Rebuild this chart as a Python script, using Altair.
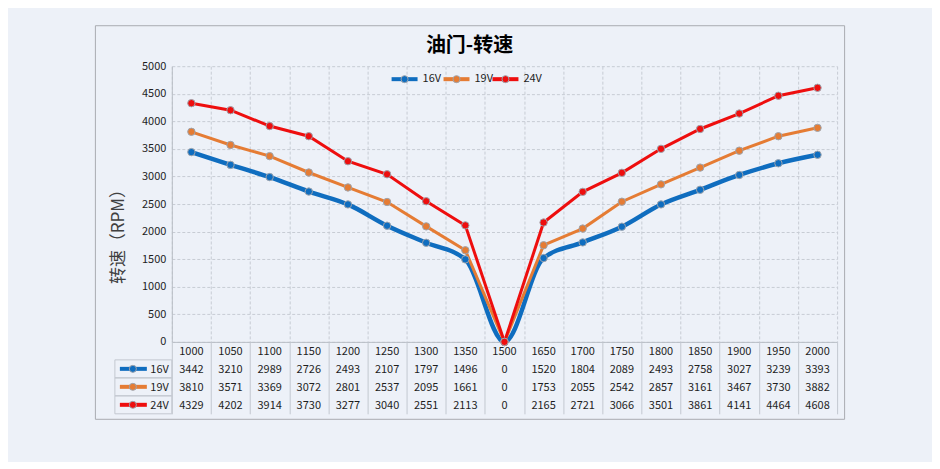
import altair as alt
import pandas as pd

# ---------------- data ----------------
categories = [1000, 1050, 1100, 1150, 1200, 1250, 1300, 1350, 1500,
              1650, 1700, 1750, 1800, 1850, 1900, 1950, 2000]
series_names = ["16V", "19V", "24V"]
v16 = [3442, 3210, 2989, 2726, 2493, 2107, 1797, 1496, 0,
       1520, 1804, 2089, 2493, 2758, 3027, 3239, 3393]
v19 = [3810, 3571, 3369, 3072, 2801, 2537, 2095, 1661, 0,
       1753, 2055, 2542, 2857, 3161, 3467, 3730, 3882]
v24 = [4329, 4202, 3914, 3730, 3277, 3040, 2551, 2113, 0,
       2165, 2721, 3066, 3501, 3861, 4141, 4464, 4608]
y_ticks = [0, 500, 1000, 1500, 2000, 2500, 3000, 3500, 4000, 4500, 5000]
title_text = "油门-转速"
y_title = "转速（RPM）"

rows = []
for name, vals in zip(series_names, [v16, v19, v24]):
    for c, v in zip(categories, vals):
        rows.append({"throttle": c, "series": name, "rpm": v})
df = pd.DataFrame(rows)

tbl = []
for c in categories:
    tbl.append({"throttle": c, "row": "hdr", "label": str(c)})
for name, vals in zip(series_names, [v16, v19, v24]):
    for c, v in zip(categories, vals):
        tbl.append({"throttle": c, "row": name, "label": str(v)})
tdf = pd.DataFrame(tbl)

# ---------------- style ----------------
FONT = "Noto Sans CJK SC"
COLORS = ["#0f6dbf", "#e57c34", "#ee0e0e"]
BG = "#edf1f8"
GRID = "#c7ccd4"
TGRID = "#c3c8d0"
AXIS = "#b9bec6"
TXT = "#1e1e1e"
W, H, TH = 666, 276, 72

color_enc = alt.Color("series:N", scale=alt.Scale(domain=series_names, range=COLORS), legend=None)

x_top = alt.X("throttle:O", bandPosition=0.5,
              scale=alt.Scale(type="band", domain=categories, paddingInner=0, paddingOuter=0),
              axis=alt.Axis(title=None, labels=False, ticks=False, tickSize=0, domain=True,
                            domainColor=AXIS, grid=True, gridColor=GRID, gridDash=[3, 2],
                            tickBand="extent"))
y_top = alt.Y("rpm:Q", scale=alt.Scale(domain=[0, 5000], nice=False),
              axis=alt.Axis(values=y_ticks, format="d", title=y_title, titleFont=FONT,
                            titleFontSize=17, titleFontWeight="normal", titleColor="#404040",
                            titleX=-53, titleY=166, titleAngle=270, titleBaseline="middle",
                            titleAlign="center", labelFont=FONT, labelFontSize=11, labelColor=TXT,
                            labelPadding=6, ticks=False, tickSize=0, domain=True, domainColor=AXIS,
                            grid=True, gridColor=GRID, gridDash=[3, 2]))

one = pd.DataFrame({"k": [0]})

card = alt.Chart(one).mark_rect(fillOpacity=0, stroke="#a9acb1", strokeWidth=1).encode(
    x=alt.value(-76.5), x2=alt.value(673.5), y=alt.value(-40.5), y2=alt.value(353.5))

title = alt.Chart(one).mark_text(text=title_text, font=FONT, fontSize=20, fontWeight="bold",
                                 color="#000000", baseline="middle", align="center").encode(
    x=alt.value(298), y=alt.value(-20))

base = alt.Chart(df).encode(x=x_top, y=y_top, color=color_enc)
line_blue = base.transform_filter(alt.datum.series == "16V").mark_line(
    interpolate="monotone", strokeWidth=4.5)
line_other = base.transform_filter(alt.datum.series != "16V").mark_line(strokeWidth=3)
pts = base.mark_circle(size=55, opacity=1, stroke="#9ea4ad", strokeWidth=1)

legend_layers = []
key_x = [220, 272, 321]
for name, col, x0 in zip(series_names, COLORS, key_x):
    legend_layers.append(alt.Chart(one).mark_rule(color=col, strokeWidth=4).encode(
        x=alt.value(x0), x2=alt.value(x0 + 26), y=alt.value(13)))
    legend_layers.append(alt.Chart(one).mark_circle(color=col, size=50, opacity=1,
                                                    stroke="#9ea4ad", strokeWidth=1).encode(
        x=alt.value(x0 + 13), y=alt.value(13)))
    legend_layers.append(alt.Chart(one).mark_text(text=name, font=FONT, fontSize=11, color=TXT,
                                                  align="left", baseline="middle").encode(
        x=alt.value(x0 + 31), y=alt.value(13)))

top = alt.layer(card, line_blue, line_other, pts, title, *legend_layers).properties(width=W, height=H)

# ---------------- data table ----------------
x_tbl = alt.X("throttle:O", bandPosition=0.5,
              scale=alt.Scale(type="band", domain=categories, paddingInner=0, paddingOuter=0),
              axis=alt.Axis(title=None, labels=False, ticks=False, tickSize=0, domain=False,
                            grid=True, gridColor=TGRID, tickBand="extent"))
row_scale = alt.Scale(type="band", domain=["hdr"] + series_names, paddingInner=0, paddingOuter=0)
y_tbl = alt.Y("row:N", scale=row_scale,
              axis=alt.Axis(title=None, labels=False, ticks=False, tickSize=0, domain=False,
                            grid=True, gridColor=TGRID, tickBand="extent"))

cells = alt.Chart(tdf).mark_text(font=FONT, fontSize=11, color=TXT, baseline="middle",
                                 align="center", dy=1).encode(x=x_tbl, y=y_tbl, text="label:N")

keys_df = pd.DataFrame({"row": series_names})
y_key = alt.Y("row:N", scale=row_scale, axis=None)
key_color = alt.Color("row:N", scale=alt.Scale(domain=series_names, range=COLORS), legend=None)
key_box = alt.Chart(keys_df).mark_rect(fillOpacity=0, stroke=TGRID, strokeWidth=1).encode(
    x=alt.value(-57), x2=alt.value(0), y=y_key)
key_line = alt.Chart(keys_df).mark_rule(strokeWidth=4).encode(
    x=alt.value(-52), x2=alt.value(-25), y=alt.Y("row:N", scale=row_scale, axis=None, bandPosition=0.5),
    color=key_color)
key_pt = alt.Chart(keys_df).mark_circle(size=50, opacity=1, stroke="#9ea4ad", strokeWidth=1).encode(
    x=alt.value(-39), y=alt.Y("row:N", scale=row_scale, axis=None, bandPosition=0.5), color=key_color)
key_txt = alt.Chart(keys_df).mark_text(font=FONT, fontSize=11, color=TXT, align="right",
                                       baseline="middle", dy=1).encode(
    x=alt.value(-3), y=alt.Y("row:N", scale=row_scale, axis=None, bandPosition=0.5), text="row:N")

table = alt.layer(cells, key_box, key_line, key_pt, key_txt).properties(width=W, height=TH)

chart = alt.vconcat(top, table, spacing=0, bounds="flush").properties(
    background=BG,
    padding={"left": 87, "top": 17, "right": 87, "bottom": 42},
).configure_view(stroke=None)

chart.save("out.html", embed_options={"renderer": "svg", "actions": False})
